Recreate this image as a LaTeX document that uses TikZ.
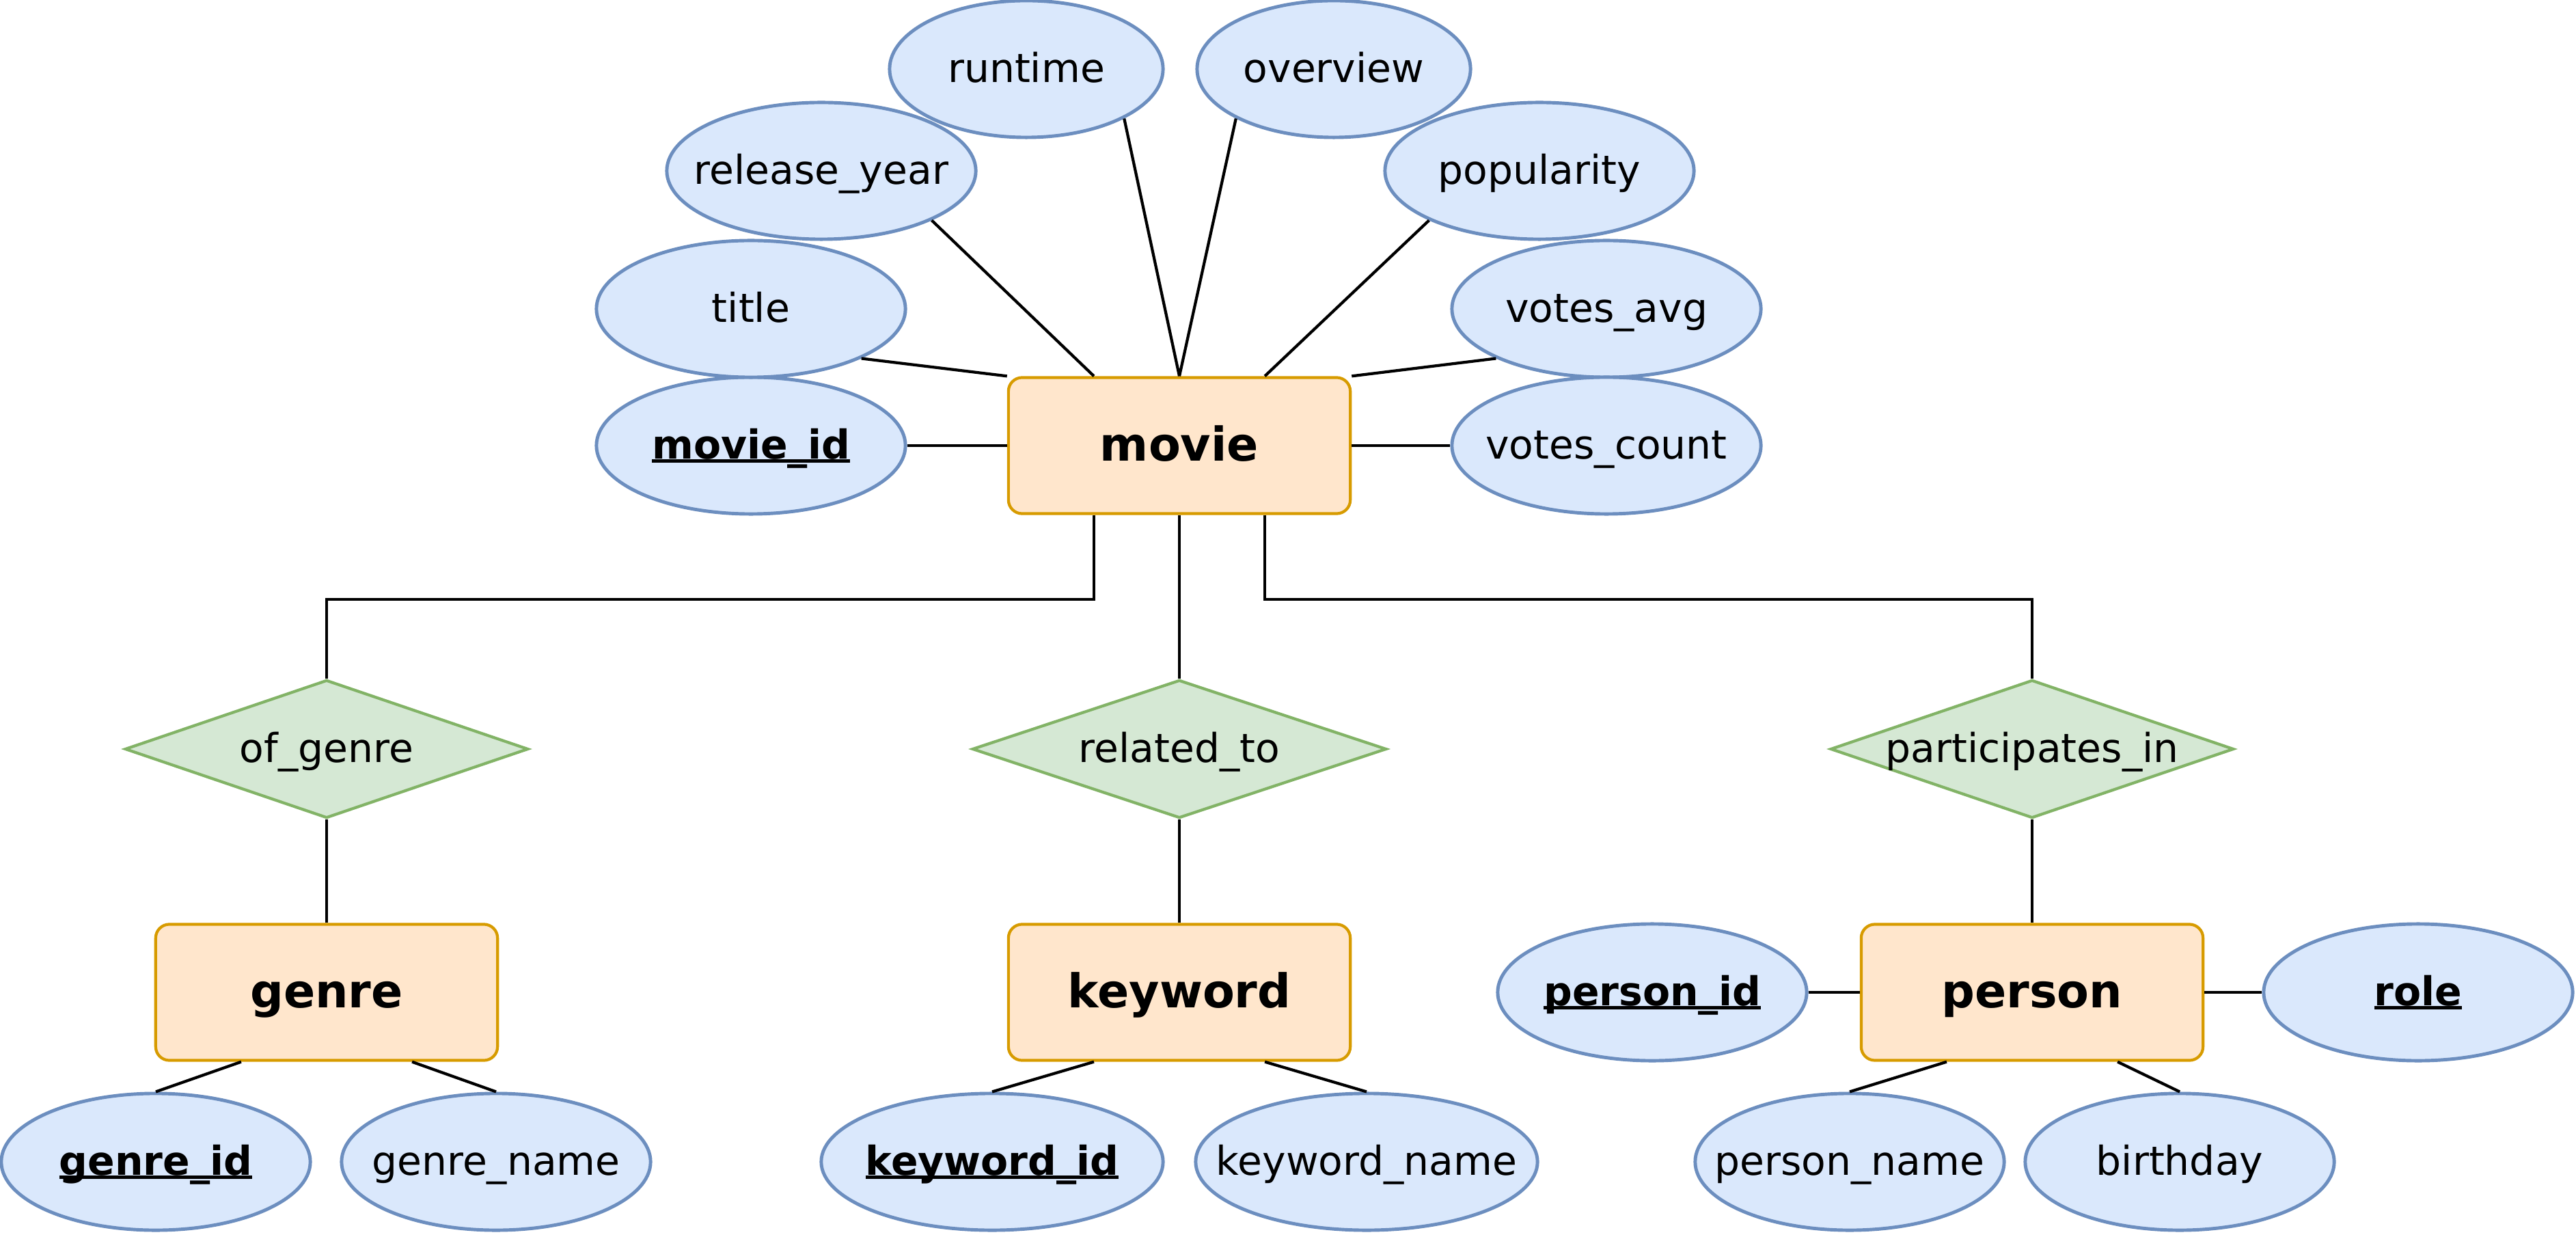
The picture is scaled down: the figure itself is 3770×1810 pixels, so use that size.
\documentclass[tikz,border=0pt]{standalone}
\usepackage{fontspec}
\setmainfont{DejaVu Sans}
\usetikzlibrary{shapes.geometric}
\definecolor{entfill}{HTML}{FFE6CC}
\definecolor{entline}{HTML}{D79B00}
\definecolor{attrfill}{HTML}{DAE8FC}
\definecolor{attrline}{HTML}{6C8EBF}
\definecolor{relfill}{HTML}{D5E8D4}
\definecolor{relline}{HTML}{82B366}
\newlength{\erkeywd}
\newcommand{\ertext}[1]{\makebox[0pt]{#1}}
\newcommand{\erkey}[1]{\settowidth{\erkeywd}{\textbf{#1}}\makebox[0pt]{\textbf{#1}\llap{\rule[-0.1em]{\erkeywd}{0.085em}}}}
\begin{document}
\begin{tikzpicture}[x=0.01cm, y=-0.01cm,
  entity/.style={rectangle, rounded corners=0.2cm, draw=entline, fill=entfill, line width=1.2pt, minimum width=5cm, minimum height=1.99cm, inner sep=0pt, text height=17pt, text depth=4pt, font=\fontsize{19.4}{23}\selectfont\bfseries},
  attr/.style={ellipse, draw=attrline, fill=attrfill, line width=1.4pt, minimum width=4.52cm, minimum height=2cm, inner sep=0pt, text height=15pt, text depth=4pt, font=\fontsize{16.6}{20}\selectfont},
  rel/.style={diamond, draw=relline, fill=relfill, line width=1.2pt, minimum width=5.9cm, minimum height=2.02cm, inner sep=0pt, text height=15pt, text depth=4pt, font=\fontsize{16.6}{20}\selectfont},
  link/.style={line width=1.2pt}]
\useasboundingbox (0,0) rectangle (3770,1810);
\node[entity] (movie) at (1726,652){movie};
\node[attr] (movieid) at (1099,652){\erkey{movie\_id}};
\node[attr] (title) at (1099,452){\ertext{title}};
\node[attr] (releaseyear) at (1202,250){\ertext{release\_year}};
\node[attr, minimum width=4cm] (runtime) at (1502,101){\ertext{runtime}};
\node[attr, minimum width=4cm] (overview) at (1952,101){\ertext{overview}};
\node[attr] (popularity) at (2253,250){\ertext{popularity}};
\node[attr] (votesavg) at (2351,452){\ertext{votes\_avg}};
\node[attr] (votescount) at (2351,652){\ertext{votes\_count}};
\node[rel] (ofgenre) at (478,1096){\ertext{of\_genre}};
\node[rel, minimum width=6.06cm] (relatedto) at (1726,1096){\ertext{related\_to}};
\node[rel] (participates) at (2974,1096){\ertext{participates\_in}};
\node[entity] (genre) at (478,1452){genre};
\node[entity] (keyword) at (1726,1452){keyword};
\node[entity] (person) at (2974,1452){person};
\node[attr] (genreid) at (228,1700){\erkey{genre\_id}};
\node[attr] (genrename) at (726,1700){\ertext{genre\_name}};
\node[attr, minimum width=5cm] (keywordid) at (1452,1700){\erkey{keyword\_id}};
\node[attr, minimum width=5cm] (keywordname) at (2000,1700){\ertext{keyword\_name}};
\node[attr] (personid) at (2418,1452){\erkey{person\_id}};
\node[attr] (role) at (3539,1452){\erkey{role}};
\node[attr] (personname) at (2707,1700){\ertext{person\_name}};
\node[attr] (birthday) at (3190,1700){\ertext{birthday}};
\draw[link](movieid) -- (movie);
\draw[link](title.south east) -- (movie.north west);
\draw[link](releaseyear.south east) -- ([xshift=-1.25cm]movie.north);
\draw[link](runtime.south east) -- (movie.north);
\draw[link](overview.south west) -- (movie.north);
\draw[link](popularity.south west) -- ([xshift=1.25cm]movie.north);
\draw[link](votesavg.south west) -- (movie.north east);
\draw[link](votescount) -- (movie);
\draw[link]([xshift=-1.25cm]movie.south) -- ++(0,123) -| (ofgenre.north);
\draw[link](movie) -- (relatedto);
\draw[link]([xshift=1.25cm]movie.south) -- ++(0,123) -| (participates.north);
\draw[link](ofgenre) -- (genre);
\draw[link](relatedto) -- (keyword);
\draw[link](participates) -- (person);
\draw[link]([xshift=-1.25cm]genre.south) -- (genreid.north);
\draw[link]([xshift=1.25cm]genre.south) -- (genrename.north);
\draw[link]([xshift=-1.25cm]keyword.south) -- (keywordid.north);
\draw[link]([xshift=1.25cm]keyword.south) -- (keywordname.north);
\draw[link](personid) -- (person);
\draw[link](role) -- (person);
\draw[link]([xshift=-1.25cm]person.south) -- (personname.north);
\draw[link]([xshift=1.25cm]person.south) -- (birthday.north);
\end{tikzpicture}
\end{document}
